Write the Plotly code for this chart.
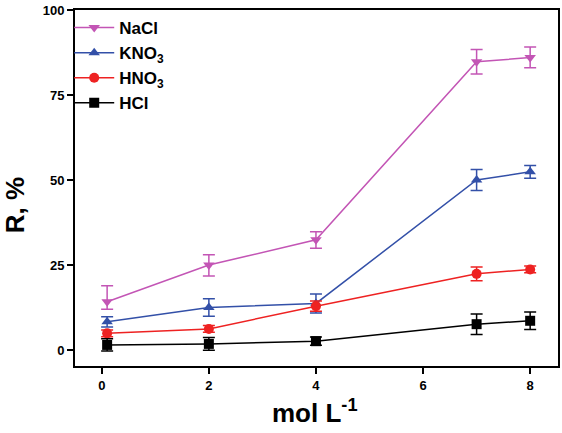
import plotly.graph_objects as go

conc = [0.1, 2, 4, 7, 8]

nacl = [14.2, 25.0, 32.4, 84.8, 86.0]
nacl_err_plus = [4.7, 3.0, 2.4, 3.6, 3.1]
nacl_err_minus = [2.2, 3.2, 2.5, 3.6, 3.0]

kno3 = [8.3, 12.5, 13.7, 50.0, 52.4]
kno3_err = [1.5, 2.6, 2.8, 3.1, 1.9]

hno3 = [4.9, 6.2, 12.9, 22.4, 23.7]
hno3_err = [1.0, 1.0, 1.5, 2.0, 1.0]

hcl = [1.5, 1.8, 2.6, 7.6, 8.6]
hcl_err = [1.8, 1.9, 1.2, 3.0, 2.6]

x_ticks = [0, 2, 4, 6, 8]
y_ticks = [0, 25, 50, 75, 100]

fig = go.Figure()

def add(name, y, col, sym, ep, em=None):
    err = dict(type="data", array=ep, visible=True, color=col, thickness=1.5, width=6)
    if em is not None:
        err["symmetric"] = False
        err["arrayminus"] = em
    fig.add_trace(go.Scatter(
        x=conc, y=y, name=name, mode="lines+markers",
        line=dict(color=col, width=1.5),
        marker=dict(color=col, symbol=sym, size=10),
        error_y=err,
    ))

add("NaCl", nacl, "#C355B5", "triangle-down", nacl_err_plus, nacl_err_minus)
add("KNO<sub>3</sub>", kno3, "#3350A8", "triangle-up", kno3_err)
add("HNO<sub>3</sub>", hno3, "#EE2222", "circle", hno3_err)
add("HCl", hcl, "#000000", "square", hcl_err)

axis_common = dict(
    showline=True, linecolor="black", linewidth=2, mirror=True,
    ticks="outside", ticklen=6, tickwidth=1.5, tickcolor="black",
    showgrid=False, zeroline=False, automargin=False,
    tickfont=dict(family="Arial, Liberation Sans", size=13, color="black", weight="bold"),
)

fig.update_layout(
    width=562, height=433,
    margin=dict(l=75, r=4, t=10, b=67),
    plot_bgcolor="white", paper_bgcolor="white",
    font=dict(family="Arial, Liberation Sans", color="black"),
    xaxis=dict(range=[-0.5, 8.52], tickvals=x_ticks, **axis_common),
    yaxis=dict(range=[-4.7, 100], tickvals=y_ticks, **axis_common),
    legend=dict(x=-0.012, y=1.0, xanchor="left", yanchor="top",
                bgcolor="rgba(0,0,0,0)",
                font=dict(size=17, weight="bold"), itemwidth=40),
    showlegend=True,
    annotations=[
        dict(text="R, %", xref="paper", yref="paper", x=-0.124, y=0.452,
             xanchor="center", yanchor="middle", textangle=-90, showarrow=False,
             font=dict(size=26, weight="bold", color="black")),
        dict(text="mol L<sup>-1</sup>", xref="paper", yref="paper", x=0.497, y=-0.129,
             xanchor="center", yanchor="middle", showarrow=False,
             font=dict(size=26, weight="bold", color="black")),
    ],
)

# remove the browser's default 8px body margin so the figure fills the window
fig.write_html("out.html", config={"displayModeBar": False},
               post_script="document.body.style.margin='0';")
